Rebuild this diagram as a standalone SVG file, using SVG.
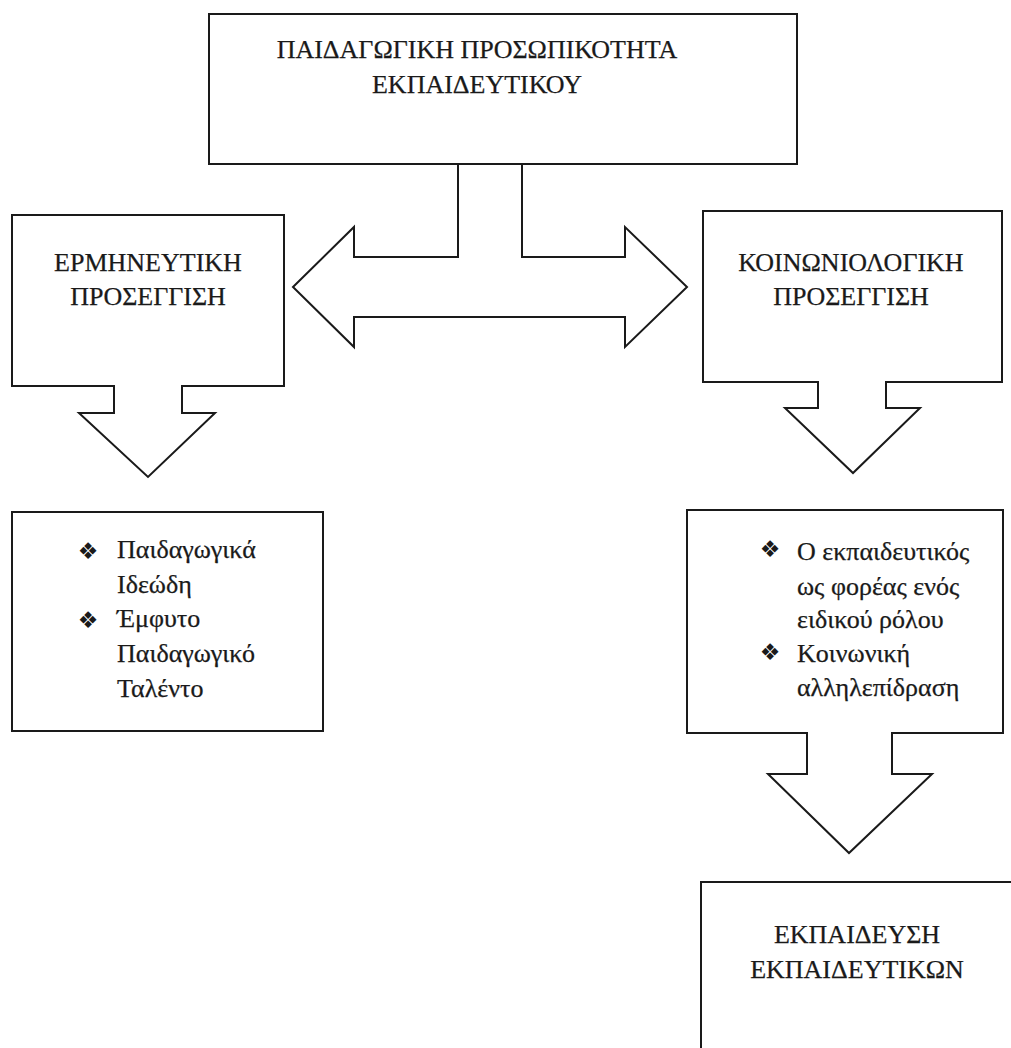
<svg xmlns="http://www.w3.org/2000/svg" width="1011" height="1048" viewBox="0 0 1011 1048">
<style>
.shape{fill:#fff;stroke:#1a1a1a;stroke-width:2;stroke-linejoin:miter}
.t{font-family:"Liberation Serif","Times New Roman",serif;font-size:26px;fill:#1a1a1a;stroke:#1a1a1a;stroke-width:0.25}
.c{text-anchor:middle}
.b{font-family:"DejaVu Sans",sans-serif;font-size:23px;fill:#1a1a1a;text-anchor:middle}
</style>
<rect width="1011" height="1048" fill="#fff"/>
<g id="connectors">
<polygon class="shape" points="293,287 354,227 354,257 458,257 458,164 522,164 522,257 625,257 625,227 687,287 625,347 625,317 354,317 354,347"/>
</g>
<g id="node-top">
<rect class="shape" x="209" y="14" width="588" height="150"/>
<text class="t c" x="477" y="58">ΠΑΙΔΑΓΩΓΙΚΗ ΠΡΟΣΩΠΙΚΟΤΗΤΑ</text>
<text class="t c" x="477" y="93">ΕΚΠΑΙΔΕΥΤΙΚΟΥ</text>
</g>
<g id="node-hermeneutic">
<path class="shape" d="M12,215 H284 V386 H182 V413 H215 L148,477 L79,413 H114 V386 H12 Z"/>
<text class="t c" x="148" y="271">ΕΡΜΗΝΕΥΤΙΚΗ</text>
<text class="t c" x="148" y="305">ΠΡΟΣΕΓΓΙΣΗ</text>
</g>
<g id="node-sociological">
<path class="shape" d="M703,211 H1002 V382 H886 V408 H920 L853,473 L785,408 H818 V382 H703 Z"/>
<text class="t c" x="851" y="271">ΚΟΙΝΩΝΙΟΛΟΓΙΚΗ</text>
<text class="t c" x="851" y="305">ΠΡΟΣΕΓΓΙΣΗ</text>
</g>
<g id="node-ideals">
<rect class="shape" x="12" y="512" width="311" height="219"/>
<text class="b" x="88" y="559">❖</text>
<text class="t" x="117" y="558">Παιδαγωγικά</text>
<text class="t" x="117" y="593">Ιδεώδη</text>
<text class="b" x="88" y="628">❖</text>
<text class="t" x="117" y="627">Έμφυτο</text>
<text class="t" x="117" y="662">Παιδαγωγικό</text>
<text class="t" x="117" y="697">Ταλέντο</text>
</g>
<g id="node-role">
<path class="shape" d="M687,510 H1003 V733 H892 V774 H932 L849,853 L768,774 H807 V733 H687 Z"/>
<text class="b" x="770" y="557">❖</text>
<text class="t" x="797" y="560">Ο εκπαιδευτικός</text>
<text class="t" x="797" y="595">ως φορέας ενός</text>
<text class="t" x="797" y="628">ειδικού ρόλου</text>
<text class="b" x="770" y="660">❖</text>
<text class="t" x="797" y="662">Κοινωνική</text>
<text class="t" x="797" y="696">αλληλεπίδραση</text>
</g>
<g id="node-training">
<rect class="shape" x="701" y="882" width="400" height="200"/>
<text class="t c" x="857" y="943">ΕΚΠΑΙΔΕΥΣΗ</text>
<text class="t c" x="857" y="978">ΕΚΠΑΙΔΕΥΤΙΚΩΝ</text>
</g>
</svg>
